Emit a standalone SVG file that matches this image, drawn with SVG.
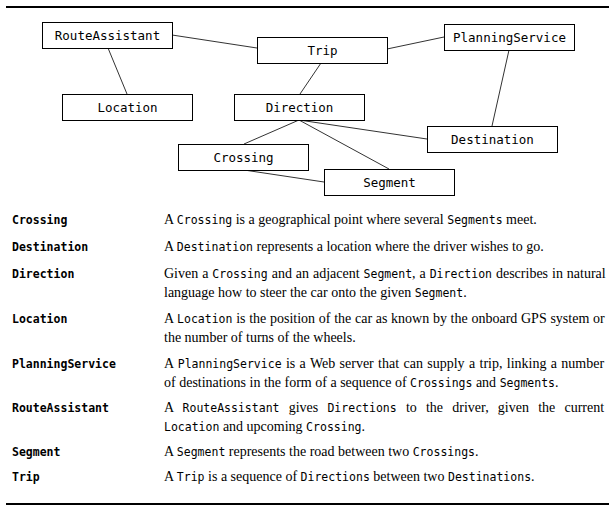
<svg xmlns="http://www.w3.org/2000/svg" width="616" height="513" viewBox="0 0 616 513">
<style>
.box{fill:#fff;stroke:#000;stroke-width:1}
.lbl{font-family:"DejaVu Sans Mono",monospace;font-size:12.5px;fill:#000;text-anchor:middle}
.edge{stroke:#333;stroke-width:1;fill:none}
.term{font-family:"DejaVu Sans Mono",monospace;font-size:11.5px;font-weight:bold;fill:#000}
.desc{font-family:"Liberation Serif","Times New Roman",serif;font-size:14px;fill:#000}
.c{font-family:"DejaVu Sans Mono",monospace;font-size:11.5px}
.rule{stroke:#000;stroke-width:2}
</style>
<rect width="616" height="513" fill="#fff"/>
<line class="rule" x1="6" y1="7" x2="609" y2="7"/>
<g id="connectors">
<line class="edge" x1="172" y1="35" x2="257" y2="48"/>
<line class="edge" x1="108" y1="48" x2="127" y2="94"/>
<line class="edge" x1="387" y1="49" x2="444" y2="37"/>
<line class="edge" x1="321" y1="63" x2="300" y2="94"/>
<line class="edge" x1="509" y1="50" x2="492" y2="126"/>
<line class="edge" x1="299" y1="120" x2="244" y2="144"/>
<line class="edge" x1="299" y1="120" x2="389" y2="169"/>
<line class="edge" x1="299" y1="120" x2="427" y2="139"/>
<line class="edge" x1="244" y1="170" x2="324" y2="182"/>
</g>
<g id="RouteAssistant"><rect class="box" x="42.5" y="22.5" width="130" height="26"/><text class="lbl" x="107.5" y="40">RouteAssistant</text></g>
<g id="Trip"><rect class="box" x="257.5" y="37.5" width="130" height="26"/><text class="lbl" x="322.5" y="55">Trip</text></g>
<g id="PlanningService"><rect class="box" x="444.5" y="24.5" width="130" height="26"/><text class="lbl" x="509.5" y="42">PlanningService</text></g>
<g id="Location"><rect class="box" x="62.5" y="94.5" width="130" height="26"/><text class="lbl" x="127.5" y="112">Location</text></g>
<g id="Direction"><rect class="box" x="234.5" y="94.5" width="130" height="26"/><text class="lbl" x="299.5" y="112">Direction</text></g>
<g id="Destination"><rect class="box" x="427.5" y="126.5" width="130" height="26"/><text class="lbl" x="492.5" y="144">Destination</text></g>
<g id="Crossing"><rect class="box" x="178.5" y="144.5" width="130" height="26"/><text class="lbl" x="243.5" y="162">Crossing</text></g>
<g id="Segment"><rect class="box" x="324.5" y="169.5" width="130" height="26"/><text class="lbl" x="389.5" y="187">Segment</text></g>
<g id="glossary">
<text class="term" x="12" y="224">Crossing</text>
<text class="desc" x="164" y="224">A <tspan class="c">Crossing</tspan> is a geographical point where several <tspan class="c">Segments</tspan> meet.</text>
<text class="term" x="12" y="251">Destination</text>
<text class="desc" x="164" y="251">A <tspan class="c">Destination</tspan> represents a location where the driver wishes to go.</text>
<text class="term" x="12" y="278">Direction</text>
<text class="desc" x="164" y="278" word-spacing="0.45">Given a <tspan class="c">Crossing</tspan> and an adjacent <tspan class="c">Segment</tspan>, a <tspan class="c">Direction</tspan> describes in natural</text>
<text class="desc" x="164" y="297">language how to steer the car onto the given <tspan class="c">Segment</tspan>.</text>
<text class="term" x="12" y="323">Location</text>
<text class="desc" x="164" y="323" word-spacing="0.2">A <tspan class="c">Location</tspan> is the position of the car as known by the onboard GPS system or</text>
<text class="desc" x="164" y="342">the number of turns of the wheels.</text>
<text class="term" x="12" y="368">PlanningService</text>
<text class="desc" x="164" y="368" word-spacing="0.85">A <tspan class="c">PlanningService</tspan> is a Web server that can supply a trip, linking a number</text>
<text class="desc" x="164" y="387">of destinations in the form of a sequence of <tspan class="c">Crossings</tspan> and <tspan class="c">Segments</tspan>.</text>
<text class="term" x="12" y="412">RouteAssistant</text>
<text class="desc" x="164" y="412" word-spacing="5.7">A <tspan class="c">RouteAssistant</tspan> gives <tspan class="c">Directions</tspan> to the driver, given the current</text>
<text class="desc" x="164" y="431"><tspan class="c">Location</tspan> and upcoming <tspan class="c">Crossing</tspan>.</text>
<text class="term" x="12" y="456">Segment</text>
<text class="desc" x="164" y="456">A <tspan class="c">Segment</tspan> represents the road between two <tspan class="c">Crossings</tspan>.</text>
<text class="term" x="12" y="481">Trip</text>
<text class="desc" x="164" y="481">A <tspan class="c">Trip</tspan> is a sequence of <tspan class="c">Directions</tspan> between two <tspan class="c">Destinations</tspan>.</text>
</g>
<line class="rule" x1="6" y1="504" x2="609" y2="504"/>
</svg>
